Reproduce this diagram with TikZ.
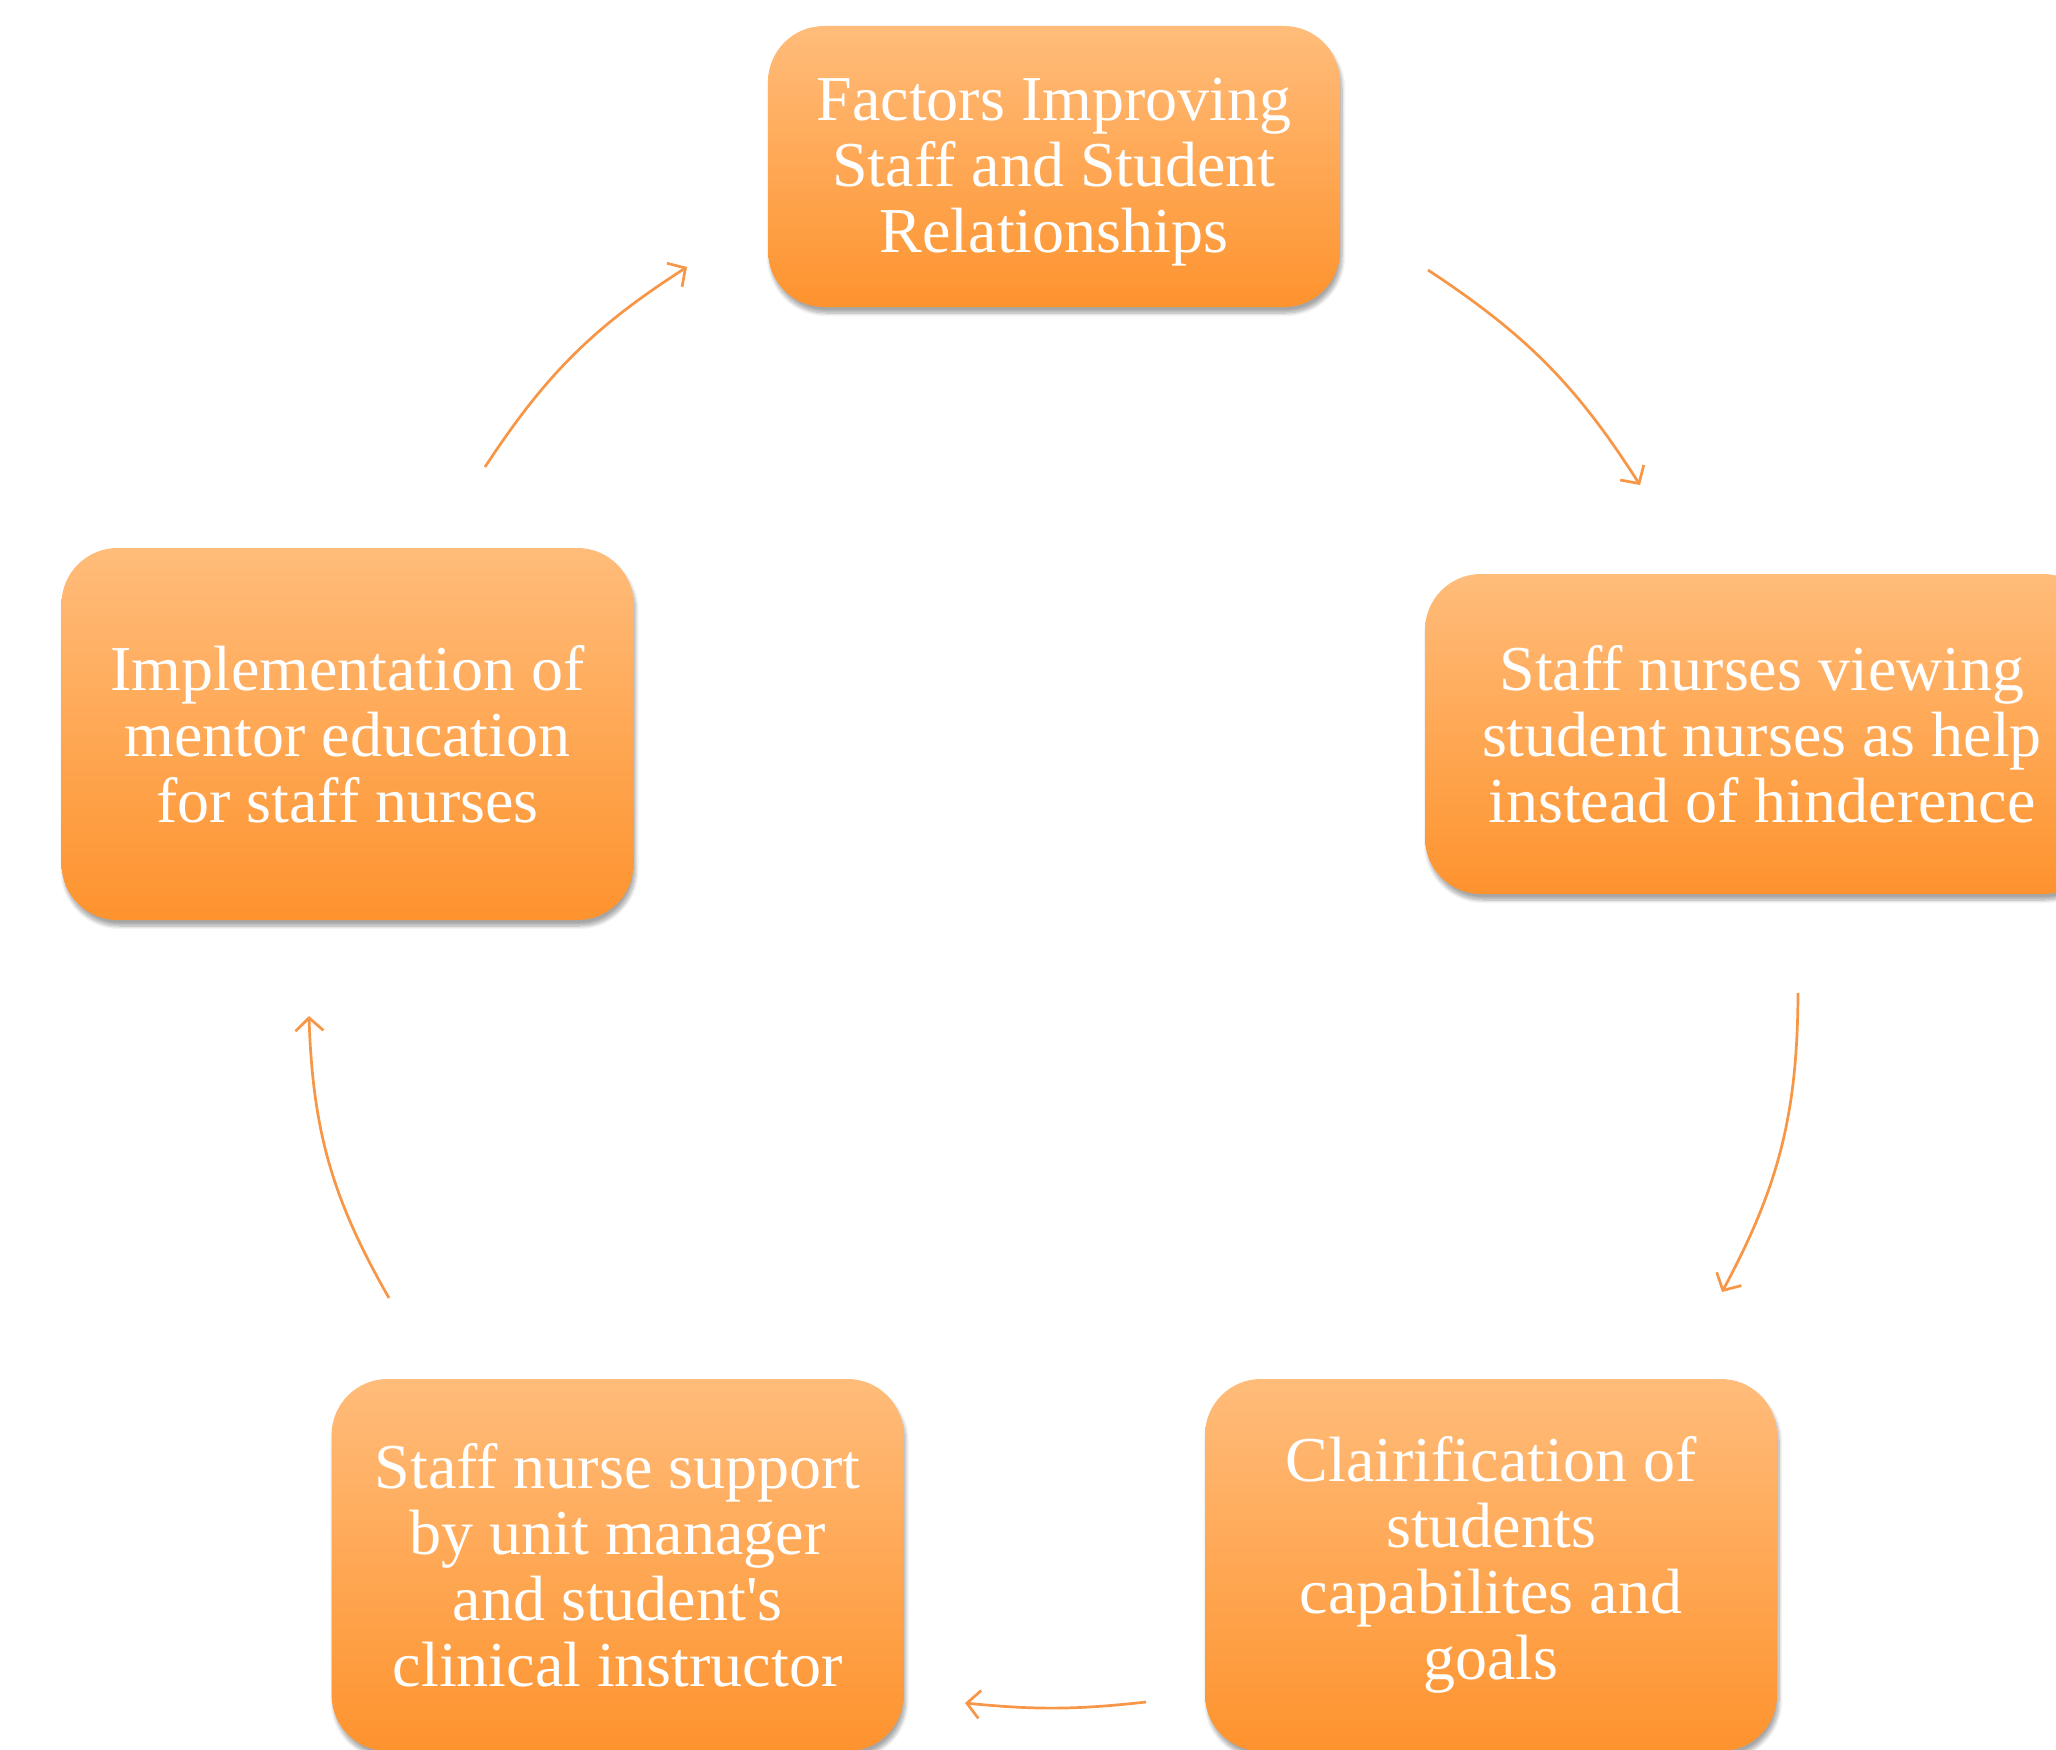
\documentclass[tikz,border=0pt]{standalone}
\usepackage{fontspec}
\setmainfont{Liberation Serif}
\usetikzlibrary{arrows.meta,shadows.blur}
\definecolor{boxtop}{RGB}{255,188,122}
\definecolor{boxbot}{RGB}{254,147,46}
\definecolor{arr}{RGB}{247,150,70}
\begin{document}
\begin{tikzpicture}[x=0.5pt,y=-0.5pt,
  cbox/.style={rectangle, rounded corners=28pt, top color=boxtop, bottom color=boxbot,
    draw=none, align=center, text=white, font=\fontsize{32}{33}\selectfont, inner sep=0pt,
    blur shadow={shadow xshift=1pt, shadow yshift=-3pt, shadow blur steps=8, shadow opacity=35}},
  cyc/.style={draw=arr, line width=1.35pt, -{Straight Barb[length=6.5pt,width=14pt]}}]
\useasboundingbox (0,0) rectangle (2056,1750);

\node[cbox, minimum width=286pt, minimum height=140.5pt] (top) at (1054,166.5)
  {\rule{0pt}{27pt}Factors Improving\\Staff and Student\\Relationships};
\node[cbox, minimum width=337pt, minimum height=160pt] (right) at (1762,734)
  {Staff nurses viewing\\student nurses as help\\instead of hinderence};
\node[cbox, minimum width=286pt, minimum height=186pt] (br) at (1491,1565)
  {Clairification of\\students\\capabilites and\\goals};
\node[cbox, minimum width=286pt, minimum height=186pt] (bl) at (617.6,1565)
  {Staff nurse support\\by unit manager\\and student\textquotesingle s\\clinical instructor};
\node[cbox, minimum width=286pt, minimum height=186pt] (left) at (347.5,734)
  {Implementation of\\mentor education\\for staff nurses};

\coordinate (a1s) at (1428,270);  \coordinate (a1e) at (1640,485);
\coordinate (a2s) at (1798,993);  \coordinate (a2e) at (1722,1292);
\coordinate (a3s) at (1146,1702); \coordinate (a3e) at (965,1703);
\coordinate (a4s) at (389,1298);  \coordinate (a4e) at (309,1016);
\coordinate (a5s) at (485,467);   \coordinate (a5e) at (687,267);

\draw[cyc] (a1s) to[bend left=12] (a1e);
\draw[cyc] (a2s) to[bend left=14] (a2e);
\draw[cyc] (a3s) to[bend left=6] (a3e);
\draw[cyc] (a4s) to[bend left=14] (a4e);
\draw[cyc] (a5s) to[bend left=12] (a5e);
\end{tikzpicture}
\end{document}
